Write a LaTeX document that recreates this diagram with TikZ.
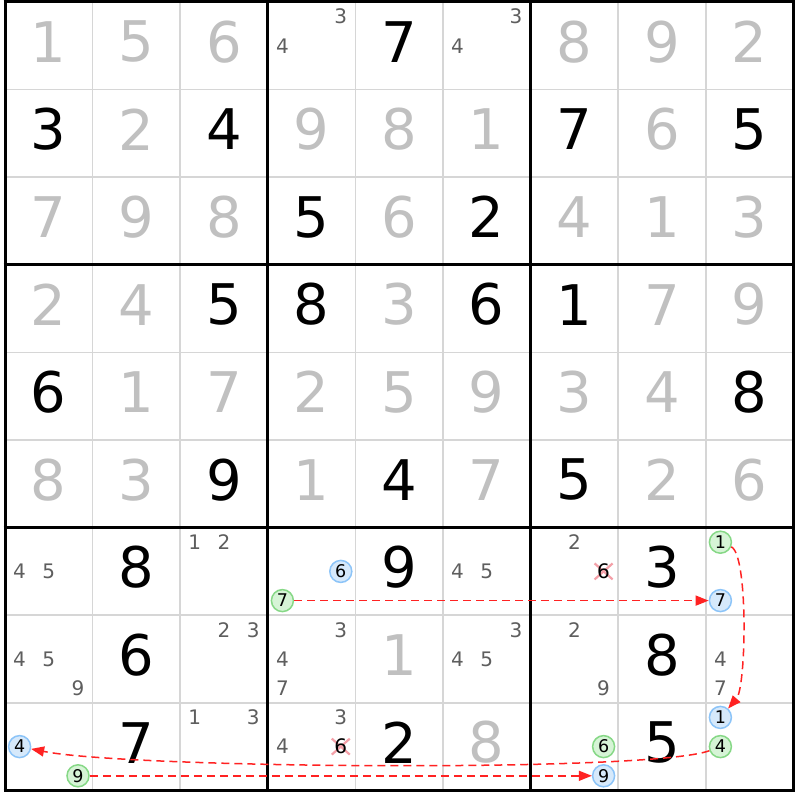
\documentclass[tikz,border=0pt]{standalone}
\usepackage{fontspec}
\setmainfont{DejaVu Sans}
\usetikzlibrary{arrows.meta}
\definecolor{solcol}{HTML}{C0C0C0}
\definecolor{candcol}{HTML}{5E5E5E}
\definecolor{thincol}{HTML}{D6D6D6}
\definecolor{bluefill}{HTML}{D6E9FB}
\definecolor{blueline}{HTML}{8CC4F8}
\definecolor{greenfill}{HTML}{D6F4D6}
\definecolor{greenline}{HTML}{86D886}
\definecolor{linkred}{HTML}{FF2222}
\definecolor{crosscol}{HTML}{F4A0A8}
\tikzset{
  bigdigit/.style={inner sep=0pt, font=\fontsize{56}{60}\selectfont},
  given/.style={bigdigit,text=black},
  solved/.style={bigdigit,text=solcol},
  cand/.style={inner sep=0pt,font=\fontsize{20}{22}\selectfont,text=candcol},
  crossed/.style={inner sep=0pt,font=\fontsize{20}{22}\selectfont,text=black},
  circc/.style={circle,line width=1.5pt,inner sep=0pt,minimum size=22pt,font=\fontsize{17.5}{20}\selectfont,text=black},
  bluec/.style={circc,draw=blueline,fill=bluefill},
  greenc/.style={circc,draw=greenline,fill=greenfill},
  thinline/.style={draw=thincol,line width=1.6pt},
  thickline/.style={draw=black,line width=3pt},
  crossline/.style={draw=crosscol,line width=2.2pt},
  link/.style={draw=linkred,line width=1.5pt,dash pattern=on 8pt off 5pt,-{Triangle[length=13pt,width=10pt]}},
}
% big digit: col row digit style
\newcommand\putbig[4]{\node[#4] (n#1#2) at ({5+(#1-0.5)*87.6},{2+(#2-0.5)*87.6-4}) {#3};}
\newcommand\gv[3]{\putbig{#1}{#2}{#3}{given}}
\newcommand\sv[3]{\putbig{#1}{#2}{#3}{solved}}
% candidate
\newcommand\cd[4][cand]{\node[#1] (c#2#3#4) at ({5+(#2-1)*87.6+14.6+mod(#4-1,3)*29.2},{2+(#3-1)*87.6+14.6+floor((#4-1)/3)*29.2}) {#4};}
\newcommand\cdlist[3]{\foreach \d in {#3} {\cd{#1}{#2}{\d}}}
\newcommand\crossat[2]{%
  \draw[crossline] ({#1-9},{#2-8}) -- ({#1+9},{#2+8});
  \draw[crossline] ({#1-9},{#2+8}) -- ({#1+9},{#2-8});}
\begin{document}
\begin{tikzpicture}[x=1pt,y=-1pt]
\useasboundingbox (0,0) rectangle (800,800);
\fill[white] (0,0) rectangle (800,800);
% grid
\foreach \i in {1,2,4,5,7,8} {
  \draw[thinline] ({5+\i*87.6},2) -- ({5+\i*87.6},790);
  \draw[thinline] (5,{2+\i*87.6}) -- (793,{2+\i*87.6});
}
\foreach \i in {0,3,6,9} {
  \draw[thickline] ({5+\i*87.6},0.5) -- ({5+\i*87.6},791.5);
  \draw[thickline] (3.5,{2+\i*87.6}) -- (794.5,{2+\i*87.6});
}
% row 1
\sv{1}{1}{1}\sv{2}{1}{5}\sv{3}{1}{6}\cdlist{4}{1}{3,4}\gv{5}{1}{7}\cdlist{6}{1}{3,4}\sv{7}{1}{8}\sv{8}{1}{9}\sv{9}{1}{2}
% row 2
\gv{1}{2}{3}\sv{2}{2}{2}\gv{3}{2}{4}\sv{4}{2}{9}\sv{5}{2}{8}\sv{6}{2}{1}\gv{7}{2}{7}\sv{8}{2}{6}\gv{9}{2}{5}
% row 3
\sv{1}{3}{7}\sv{2}{3}{9}\sv{3}{3}{8}\gv{4}{3}{5}\sv{5}{3}{6}\gv{6}{3}{2}\sv{7}{3}{4}\sv{8}{3}{1}\sv{9}{3}{3}
% row 4
\sv{1}{4}{2}\sv{2}{4}{4}\gv{3}{4}{5}\gv{4}{4}{8}\sv{5}{4}{3}\gv{6}{4}{6}\gv{7}{4}{1}\sv{8}{4}{7}\sv{9}{4}{9}
% row 5
\gv{1}{5}{6}\sv{2}{5}{1}\sv{3}{5}{7}\sv{4}{5}{2}\sv{5}{5}{5}\sv{6}{5}{9}\sv{7}{5}{3}\sv{8}{5}{4}\gv{9}{5}{8}
% row 6
\sv{1}{6}{8}\sv{2}{6}{3}\gv{3}{6}{9}\sv{4}{6}{1}\gv{5}{6}{4}\sv{6}{6}{7}\gv{7}{6}{5}\sv{8}{6}{2}\sv{9}{6}{6}
% row 7
\cdlist{1}{7}{4,5}\gv{2}{7}{8}\cdlist{3}{7}{1,2}
\cd[bluec]{4}{7}{6}\cd[greenc]{4}{7}{7}
\gv{5}{7}{9}\cdlist{6}{7}{4,5}
\cd{7}{7}{2}
\crossat{603.6}{571.4}
\cd[crossed]{7}{7}{6}
\gv{8}{7}{3}
\cd[greenc]{9}{7}{1}\cd[bluec]{9}{7}{7}
% row 8
\cdlist{1}{8}{4,5,9}\gv{2}{8}{6}\cdlist{3}{8}{2,3}
\cdlist{4}{8}{3,4,7}\sv{5}{8}{1}\cdlist{6}{8}{3,4,5}
\cdlist{7}{8}{2,9}\gv{8}{8}{8}\cdlist{9}{8}{4,7}
% row 9
\cd[bluec]{1}{9}{4}\cd[greenc]{1}{9}{9}\gv{2}{9}{7}\cdlist{3}{9}{1,3}
\cdlist{4}{9}{3,4}
\crossat{340.8}{746.6}
\cd[crossed]{4}{9}{6}
\gv{5}{9}{2}\sv{6}{9}{8}
\cd[greenc]{7}{9}{6}\cd[bluec]{7}{9}{9}\gv{8}{9}{5}
\cd[bluec]{9}{9}{1}\cd[greenc]{9}{9}{4}
% links
\draw[link] (c477) -- (c977);
\draw[link] (c971) .. controls +(28,12) and +(26,-30) .. (c991);
\draw[link] (c994) .. controls +(-70,26) and +(110,22) .. (c194);
\draw[link] (c199) -- (c799);
\end{tikzpicture}
\end{document}
